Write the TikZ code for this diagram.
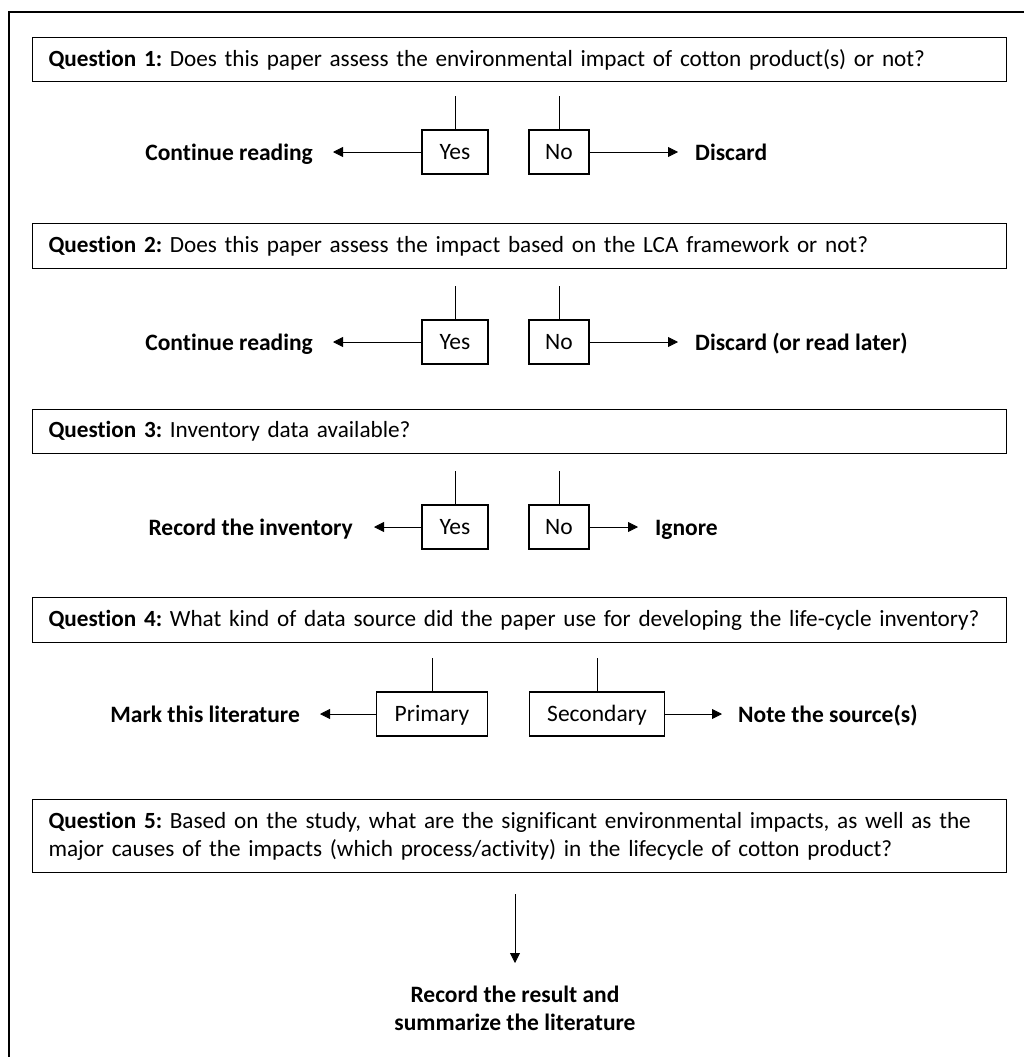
\documentclass[tikz,border=0pt]{standalone}
\usepackage{fontspec}
\setmainfont{Carlito}[Ligatures=NoCommon]
\usetikzlibrary{arrows.meta}
\frenchspacing

\tikzset{
  qbox/.style={draw, line width=1.1pt, anchor=north west, minimum width=974pt,
    text width=942pt, align=left, inner xsep=16pt, font=\fontsize{23.2}{28}\selectfont},
  choice/.style={draw, line width=1.1pt, minimum height=44pt, inner sep=0pt,
    text height=17pt, text depth=2pt, font=\fontsize{23.5}{25}\selectfont},
  outcome/.style={inner sep=0pt, text height=19pt, text depth=2pt,
    font=\fontsize{23.5}{28}\selectfont\bfseries},
  twoline/.style={inner sep=0pt, align=center, font=\fontsize{23.5}{28}\selectfont\bfseries},
  link/.style={line width=0.8pt},
  flow/.style={line width=0.8pt, -{Triangle[length=10pt,width=10pt]}}
}

\begin{document}
\begin{tikzpicture}[x=1pt, y=-1pt]
  \useasboundingbox (0,0) rectangle (1024,1057);
  \draw[line width=1.6pt] (1024,12) -- (9,12) -- (9,1057);

  % question 1
  \node[qbox, minimum height=44pt] (q1) at (32,37) {\textbf{Question 1:} Does this paper assess the environmental impact of cotton product(s) or not?};
  \node[choice, minimum width=66pt] (yes1) at (455,152) {Yes};
  \node[choice, minimum width=60pt] (no1) at (559,152) {No};
  \node[outcome, anchor=east] (cont1) at (313,152) {Continue reading};
  \node[outcome, anchor=west] (disc1) at (695,152) {Discard};
  \draw[link] (yes1.north) -- ++(0,-33);
  \draw[link] (no1.north) -- ++(0,-33);
  \draw[flow, shorten >=20pt] (yes1.west) -- (cont1.east);
  \draw[flow, shorten >=17pt] (no1.east) -- (disc1.west);

  % question 2
  \node[qbox, minimum height=45pt] (q2) at (32,223) {\textbf{Question 2:} Does this paper assess the impact based on the LCA framework or not?};
  \node[choice, minimum width=66pt] (yes2) at (455,342) {Yes};
  \node[choice, minimum width=60pt] (no2) at (559,342) {No};
  \node[outcome, anchor=east] (cont2) at (313,342) {Continue reading};
  \node[outcome, anchor=west] (disc2) at (695,342) {Discard (or read later)};
  \draw[link] (yes2.north) -- ++(0,-33);
  \draw[link] (no2.north) -- ++(0,-33);
  \draw[flow, shorten >=20pt] (yes2.west) -- (cont2.east);
  \draw[flow, shorten >=17pt] (no2.east) -- (disc2.west);

  % question 3
  \node[qbox, minimum height=44pt] (q3) at (32,409) {\textbf{Question 3:} Inventory data available?};
  \node[choice, minimum width=66pt] (yes3) at (455,527) {Yes};
  \node[choice, minimum width=60pt] (no3) at (559,527) {No};
  \node[outcome, anchor=east] (rec3) at (353,527) {Record the inventory};
  \node[outcome, anchor=west] (ign3) at (655,527) {Ignore};
  \draw[link] (yes3.north) -- ++(0,-33);
  \draw[link] (no3.north) -- ++(0,-33);
  \draw[flow, shorten >=21pt] (yes3.west) -- (rec3.east);
  \draw[flow, shorten >=17pt] (no3.east) -- (ign3.west);

  % question 4
  \node[qbox, minimum height=45pt] (q4) at (32,597) {\textbf{Question 4:} What kind of data source did the paper use for developing the life-cycle inventory?};
  \node[choice, minimum width=111pt] (prim) at (432,714) {Primary};
  \node[choice, minimum width=135pt] (sec) at (597,714) {Secondary};
  \node[outcome, anchor=east] (mark) at (300,714) {Mark this literature};
  \node[outcome, anchor=west] (note) at (738,714) {Note the source(s)};
  \draw[link] (prim.north) -- ++(0,-33);
  \draw[link] (sec.north) -- ++(0,-33);
  \draw[flow, shorten >=20pt] (prim.west) -- (mark.east);
  \draw[flow, shorten >=16pt] (sec.east) -- (note.west);

  % question 5
  \node[qbox, minimum height=73pt] (q5) at (32,799) {\textbf{Question 5:} Based on the study, what are the significant environmental impacts, as well as the\\major causes of the impacts (which process/activity) in the lifecycle of cotton product?};
  \node[twoline, anchor=north] (summ) at (515,986) {Record the result and\\summarize the literature};
  \draw[flow, shorten <=21pt, shorten >=23pt] (summ.north |- q5.south) -- (summ.north);
\end{tikzpicture}
\end{document}
